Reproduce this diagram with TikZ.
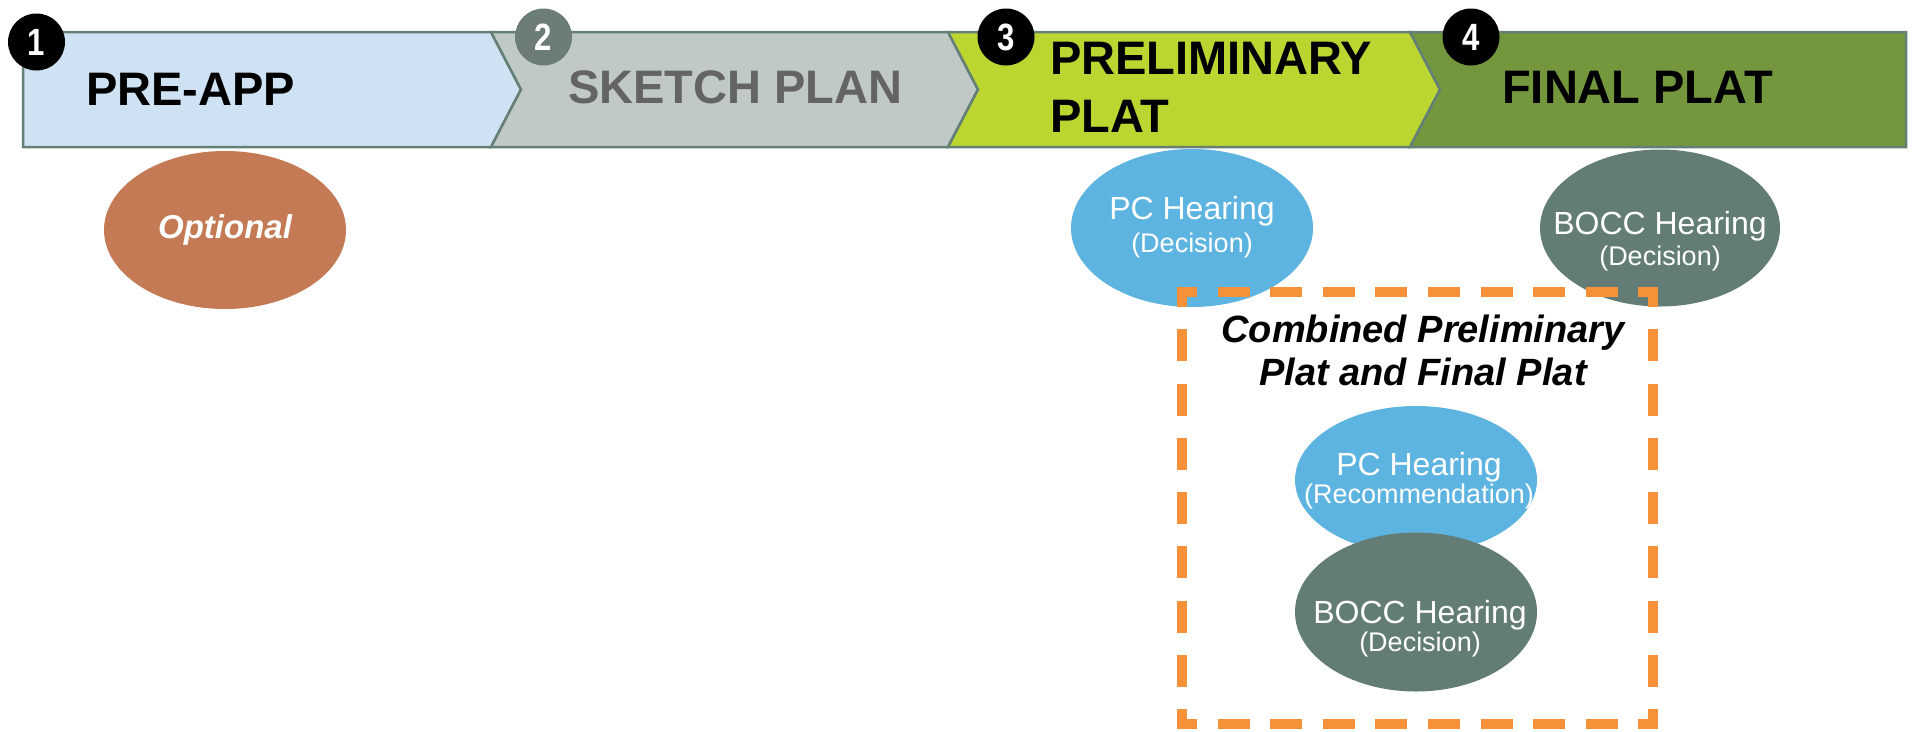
\documentclass[tikz,border=0pt]{standalone}
\usepackage{fontspec}
\setmainfont{Liberation Sans}
\usetikzlibrary{shapes.geometric}

\definecolor{preblue}{HTML}{CFE2F3}
\definecolor{sketchgray}{HTML}{C0C9C5}
\definecolor{prelimgreen}{HTML}{BCD631}
\definecolor{finalgreen}{HTML}{74973D}
\definecolor{bandedge}{HTML}{648076}
\definecolor{dotgray}{HTML}{6B7D76}
\definecolor{pcblue}{HTML}{5EB4E1}
\definecolor{boccgray}{HTML}{637C75}
\definecolor{optbrown}{HTML}{C47A54}
\definecolor{boxorange}{HTML}{F79139}
\definecolor{sketchtext}{HTML}{646464}

\tikzset{
  stage/.style={draw=bandedge, line width=2.5pt, line join=miter},
  stagelabel/.style={inner sep=0pt, font=\fontsize{47pt}{58pt}\selectfont\bfseries},
  numdot/.style={circle, minimum size=57pt, inner sep=0pt, text=white, font=\fontsize{38pt}{38pt}\selectfont\bfseries},
  hear/.style={ellipse, minimum width=242pt, minimum height=158pt, inner sep=0pt},
  heartext/.style={inner sep=0pt, align=center, text=white, anchor=north, font=\fontsize{32pt}{#1}\selectfont},
  combox/.style={draw=boxorange, line width=10pt},
}
\newcommand\hsmall[1]{{\fontsize{27pt}{27pt}\selectfont #1}}
\newcommand\numtxt[1]{\scalebox{0.82}[1]{#1}}

\begin{document}
\begin{tikzpicture}[x=1pt,y=-1pt]
\useasboundingbox (0,0) rectangle (1913,731);
% stages
\filldraw[stage, fill=preblue] (23,32) -- (491,32) -- (521,89.5) -- (491,147) -- (23,147) -- cycle;
\filldraw[stage, fill=sketchgray] (491,32) -- (948,32) -- (978,89.5) -- (948,147) -- (491,147) -- (521,89.5) -- cycle;
\filldraw[stage, fill=prelimgreen] (948,32) -- (1410,32) -- (1440,89.5) -- (1410,147) -- (948,147) -- (978,89.5) -- cycle;
\filldraw[stage, fill=finalgreen] (1410,32) -- (1906,32) -- (1906,147) -- (1410,147) -- (1440,89.5) -- cycle;
\node[stagelabel, anchor=west] (preapp) at (86,89) {PRE-APP};
\node[stagelabel, anchor=west, text=sketchtext] (sketch) at (568,87) {SKETCH PLAN};
\node[stagelabel, anchor=north west, align=left] (prelim) at (1050,41.5) {PRELIMINARY\\PLAT};
\node[stagelabel, anchor=west] (final) at (1502,87) {FINAL PLAT};
% numbers
\node[numdot, fill=black] (n1) at (36.5,42) {\numtxt{1}};
\node[numdot, fill=dotgray] (n2) at (543.5,37) {\numtxt{2}};
\node[numdot, fill=black] (n3) at (1006,37) {\numtxt{3}};
\node[numdot, fill=black] (n4) at (1471,37) {\numtxt{4}};
% hearings
\node[hear, fill=optbrown, text=white, font=\fontsize{33pt}{33pt}\selectfont\bfseries\itshape] (opt) at (225,230) {Optional};
\node[hear, fill=pcblue] (pcA) at (1192,228) {};
\node[heartext=32.5pt] (pcAtext) at (1192,196.5) {PC Hearing\\\hsmall{(Decision)}};
\node[hear, fill=boccgray, minimum width=240pt, minimum height=157pt] (boccA) at (1660,228) {};
\node[heartext=30.5pt] (boccAtext) at (1660,211.5) {BOCC Hearing\\\hsmall{(Decision)}};
% combined box
\draw[combox, dash pattern=on 32pt off 20.6pt, dash phase=12pt] (1177,292) -- (1658,292);
\draw[combox, dash pattern=on 32pt off 20.6pt, dash phase=12pt] (1177,724) -- (1658,724);
\draw[combox, dash pattern=on 32pt off 22.25pt, dash phase=12pt] (1182,287) -- (1182,729);
\draw[combox, dash pattern=on 32pt off 22.25pt, dash phase=12pt] (1653,287) -- (1653,729);
\node[inner sep=0pt, anchor=north, align=center, font=\fontsize{38pt}{43pt}\selectfont\bfseries\itshape] (combo) at (1423,314.5) {Combined Preliminary\\Plat and Final Plat};
\node[hear, fill=pcblue, minimum height=148pt] (pcB) at (1416,480) {};
\node[heartext=27.5pt] (pcBtext) at (1419,452.5) {PC Hearing\\\hsmall{(Recommendation)}};
\node[hear, fill=boccgray, minimum height=159pt] (boccB) at (1416,612) {};
\node[heartext=27.5pt] (boccBtext) at (1420,600.5) {BOCC Hearing\\\hsmall{(Decision)}};
\end{tikzpicture}
\end{document}
